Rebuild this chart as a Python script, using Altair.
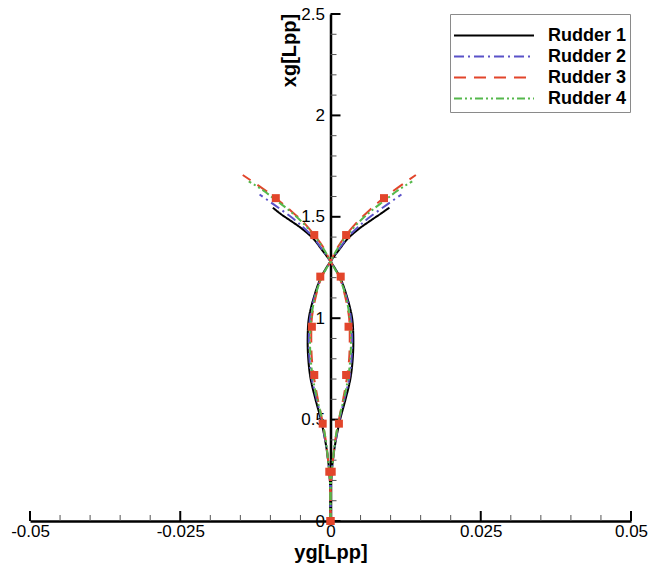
import altair as alt
import pandas as pd

# ---------------- data ----------------
rudders = ["Rudder 1", "Rudder 2", "Rudder 3", "Rudder 4"]
colors = ["#000000", "#5a52c8", "#e2452b", "#55b84c"]
dashes = [[1, 0], [10, 4, 2, 4], [12, 8], [8, 3, 2, 3, 2, 3]]

# Rudder 1
r1_xg = [0, 0.1, 0.2, 0.3, 0.4, 0.5, 0.6, 0.7, 0.8, 0.9, 1.0, 1.1, 1.2, 1.28,
         1.34, 1.39, 1.44, 1.48, 1.51, 1.545]
r1_yg_a = [0, 0.00003, 0.0001, 0.0004, 0.0009, 0.0016, 0.0025, 0.0033, 0.0037, 0.0038,
           0.0036, 0.0028, 0.0016, 0, -0.0015, -0.0028, -0.0047, -0.0066, -0.0081, -0.0096]
r1_yg_b = [0, -0.00003, -0.0001, -0.0004, -0.0009, -0.0016, -0.0025, -0.0033, -0.0037, -0.0038,
           -0.0036, -0.0028, -0.0016, 0, 0.0015, 0.0028, 0.0047, 0.0066, 0.0081, 0.0098]

# Rudder 2
r2_xg = [0, 0.1, 0.2, 0.3, 0.4, 0.5, 0.6, 0.7, 0.8, 0.9, 1.0, 1.1, 1.2, 1.28,
         1.34, 1.40, 1.45, 1.50, 1.56, 1.61]
r2_yg_a = [0, 0.00003, 0.0001, 0.0004, 0.0009, 0.0015, 0.0023, 0.0031, 0.0035, 0.0036,
           0.0034, 0.0027, 0.0015, 0, -0.0014, -0.0029, -0.0046, -0.0066, -0.0094, -0.0118]
r2_yg_b = [0, -0.00003, -0.0001, -0.0004, -0.0009, -0.0015, -0.0023, -0.0031, -0.0035, -0.0036,
           -0.0034, -0.0027, -0.0015, 0, 0.0014, 0.0029, 0.0046, 0.0066, 0.0094, 0.0118]

# Rudder 3
r3_xg = [0, 0.1, 0.2, 0.3, 0.4, 0.5, 0.6, 0.7, 0.8, 0.9, 1.0, 1.1, 1.2, 1.28,
         1.35, 1.41, 1.47, 1.53, 1.594, 1.65, 1.706]
r3_yg_a = [0, 0.00003, 0.0001, 0.0004, 0.0008, 0.0014, 0.0021, 0.0027, 0.0031, 0.0032,
           0.0031, 0.0025, 0.0015, 0, -0.0012, -0.0027, -0.0044, -0.0066, -0.0092, -0.0118, -0.0146]
r3_yg_b = [0, -0.00003, -0.0001, -0.0004, -0.0008, -0.0014, -0.0021, -0.0027, -0.0031, -0.0032,
           -0.0031, -0.0025, -0.0015, 0, 0.0012, 0.0026, 0.0043, 0.0064, 0.0089, 0.0115, 0.0142]

# Rudder 4
r4_xg = [0, 0.1, 0.2, 0.3, 0.4, 0.5, 0.6, 0.7, 0.8, 0.9, 1.0, 1.1, 1.2, 1.28,
         1.35, 1.41, 1.47, 1.53, 1.58, 1.63, 1.675]
r4_yg_a = [0, 0.00003, 0.0001, 0.0004, 0.0008, 0.0014, 0.0022, 0.0029, 0.0033, 0.0034,
           0.0032, 0.0026, 0.0015, 0, -0.0013, -0.0028, -0.0046, -0.0068, -0.0090, -0.0112, -0.0136]
r4_yg_b = [0, -0.00003, -0.0001, -0.0004, -0.0008, -0.0014, -0.0022, -0.0029, -0.0033, -0.0034,
           -0.0032, -0.0026, -0.0015, 0, 0.0013, 0.0028, 0.0046, 0.0068, 0.0090, 0.0112, 0.0136]

# Rudder 3 square markers
mk_xg = [0, 0.243, 0.48, 0.72, 0.958, 1.205, 1.41, 1.592]
mk_yg_left = [0, -0.0002, -0.0013, -0.0027, -0.0031, -0.0017, -0.0027, -0.0091]
mk_yg_right = [0, 0.0002, 0.0014, 0.0026, 0.0030, 0.0017, 0.0026, 0.0089]

# axis ticks / labels
x_major = [-0.05, -0.025, 0, 0.025, 0.05]
x_minor = [-0.045, -0.04, -0.035, -0.03, -0.02, -0.015, -0.01, -0.005,
           0.005, 0.01, 0.015, 0.02, 0.03, 0.035, 0.04, 0.045]
y_major = [0, 0.5, 1, 1.5, 2, 2.5]
y_minor = [0.1, 0.2, 0.3, 0.4, 0.6, 0.7, 0.8, 0.9, 1.1, 1.2, 1.3, 1.4,
           1.6, 1.7, 1.8, 1.9, 2.1, 2.2, 2.3, 2.4]

# ---------------- tables ----------------
series = [
    ("Rudder 1", r1_xg, r1_yg_a, r1_yg_b),
    ("Rudder 2", r2_xg, r2_yg_a, r2_yg_b),
    ("Rudder 3", r3_xg, r3_yg_a, r3_yg_b),
    ("Rudder 4", r4_xg, r4_yg_a, r4_yg_b),
]
rows = []
for name, xs, ya, yb in series:
    for br, ys in (("a", ya), ("b", yb)):
        for i, (xv, yv) in enumerate(zip(xs, ys)):
            rows.append({"rudder": name, "branch": name + br, "i": i, "xg": xv, "yg": yv})
df = pd.DataFrame(rows)

mk = pd.DataFrame({"xg": mk_xg + mk_xg, "yg": mk_yg_left + mk_yg_right})
xmaj = pd.DataFrame({"yg": x_major})
xmin = pd.DataFrame({"yg": x_minor})
ymaj = pd.DataFrame({"xg": y_major})
ymin = pd.DataFrame({"xg": y_minor})

W, H = 601, 507
FONT = "Liberation Sans"

xscale = alt.Scale(domain=[-0.05, 0.05], nice=False, zero=False)
yscale = alt.Scale(domain=[0, 2.5], nice=False, zero=False)

xaxis = alt.Axis(
    orient="bottom", values=x_major, labelExpr="'' + datum.value",
    ticks=False, tickSize=0, grid=False, domain=True, domainColor="black", domainWidth=2.5,
    labelFlush=False, labelFont=FONT, labelFontSize=17, labelColor="black", labelPadding=2,
    title="yg[Lpp]", titleFont=FONT, titleFontSize=20, titleFontWeight="bold",
    titleColor="black", titlePadding=3,
)
yaxis = alt.Axis(
    orient="left", offset=-W / 2, values=y_major, labelExpr="'' + datum.value",
    ticks=False, tickSize=0, grid=False, domain=True, domainColor="black", domainWidth=2.5,
    labelFont=FONT, labelFontSize=17, labelColor="black", labelPadding=6,
    title="xg[Lpp]", titleFont=FONT, titleFontSize=20, titleFontWeight="bold",
    titleColor="black", titleAngle=270, titleAlign="center", titleBaseline="middle",
    titleX=-41, titleY=36,
)

legend = alt.Legend(
    title=" ", titleFontSize=5, titlePadding=3,
    orient="none", legendX=420, legendY=0, direction="vertical",
    symbolType="stroke", symbolSize=6400, symbolStrokeWidth=2, clipHeight=21,
    labelFont=FONT, labelFontSize=18, labelFontWeight="bold", labelColor="black",
    labelOffset=13, padding=3, rowPadding=0, symbolOffset=0,
    strokeColor="#8a8a8a", fillColor="white",
)

lines = alt.Chart(df).mark_line(strokeWidth=2, interpolate="catmull-rom").encode(
    x=alt.X("yg:Q", scale=xscale, axis=xaxis),
    y=alt.Y("xg:Q", scale=yscale, axis=yaxis),
    color=alt.Color("rudder:N", scale=alt.Scale(domain=rudders, range=colors), legend=legend),
    strokeDash=alt.StrokeDash("rudder:N", scale=alt.Scale(domain=rudders, range=dashes), legend=legend),
    detail="branch:N",
    order="i:Q",
)

squares = alt.Chart(mk).mark_square(size=64, color="#e2452b", opacity=1).encode(
    x=alt.X("yg:Q", scale=xscale, axis=xaxis),
    y=alt.Y("xg:Q", scale=yscale, axis=yaxis),
)

xt_major = alt.Chart(xmaj).mark_rule(color="black", strokeWidth=2).encode(
    x=alt.X("yg:Q", scale=xscale, axis=xaxis), y=alt.value(H), y2=alt.value(H - 10)
)
xt_minor = alt.Chart(xmin).mark_rule(color="#555555", strokeWidth=1).encode(
    x=alt.X("yg:Q", scale=xscale, axis=xaxis), y=alt.value(H), y2=alt.value(H - 6)
)
yt_major = alt.Chart(ymaj).mark_rule(color="black", strokeWidth=2).encode(
    y=alt.Y("xg:Q", scale=yscale, axis=yaxis), x=alt.value(W / 2), x2=alt.value(W / 2 + 10)
)
yt_minor = alt.Chart(ymin).mark_rule(color="#555555", strokeWidth=1).encode(
    y=alt.Y("xg:Q", scale=yscale, axis=yaxis), x=alt.value(W / 2), x2=alt.value(W / 2 + 6)
)

chart = alt.layer(xt_minor, xt_major, yt_minor, yt_major, lines, squares).properties(
    width=W, height=H,
    autosize=alt.AutoSizeParams(type="none"),
    padding={"left": 30, "top": 14, "right": 18, "bottom": 43},
    background="white",
).configure_view(stroke=None)

chart.save("out.html", embed_options={"renderer": "svg", "actions": False})
